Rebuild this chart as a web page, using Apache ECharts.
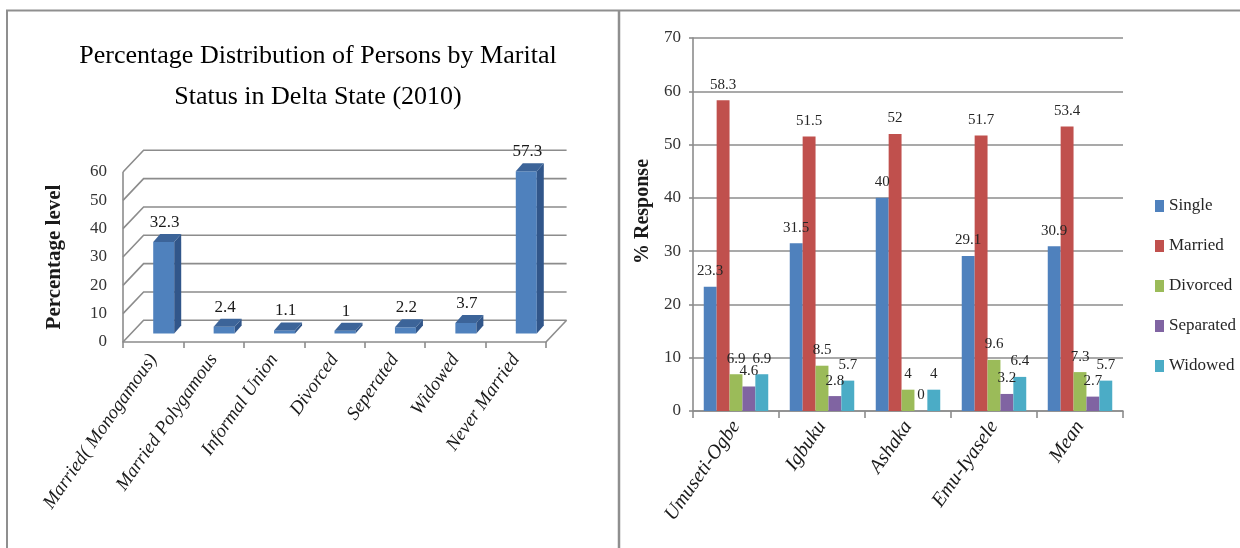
<!DOCTYPE html>
<html>
<head>
<meta charset="utf-8">
<script src="https://cdn.jsdelivr.net/npm/echarts@6/dist/echarts.min.js"></script>
<style>
  html, body { margin: 0; padding: 0; background: #fff; }
  #chart { width: 1240px; height: 548px; }
</style>
</head>
<body>
<div id="chart"></div>
<script>
// ---- Marital status, Delta State (2010) ----
const statusCategories = ['Married( Monogamous)', 'Married Polygamous', 'Informal Union', 'Divorced', 'Seperated', 'Widowed', 'Never Married'];
const statusValues = [32.3, 2.4, 1.1, 1, 2.2, 3.7, 57.3];
const statusTicks = [0, 10, 20, 30, 40, 50, 60];

// ---- Survey response by community ----
const communities = ['Umuseti-Ogbe', 'Igbuku', 'Ashaka', 'Emu-Iyasele', 'Mean'];
const singleValues = [23.3, 31.5, 40, 29.1, 30.9];
const marriedValues = [58.3, 51.5, 52, 51.7, 53.4];
const divorcedValues = [6.9, 8.5, 4, 9.6, 7.3];
const separatedValues = [4.6, 2.8, 0, 3.2, 2.7];
const widowedValues = [6.9, 5.7, 4, 6.4, 5.7];

const SERIF = '"Liberation Serif", "DejaVu Serif", serif';
const GRID_LINE = '#8c8c8c';

// depth of the 3D box (back wall offset)
const WALL_DX = 20.6, WALL_DY = -21.7;
// bar placement inside the box and bar depth
const BAR_DX = 10.5, BAR_DY = -8.5, BAR_W = 21, BAR_SX = 7, BAR_SY = -8;

function renderWall(params, api) {
  const cs = params.coordSys;
  const v = api.value(1);
  const y = api.coord([0, v])[1];
  const x0 = cs.x, x1 = cs.x + cs.width;
  const style = { stroke: GRID_LINE, lineWidth: 1.6, fill: null };
  const children = [{
    type: 'polyline',
    shape: { points: [[x0, y], [x0 + WALL_DX, y + WALL_DY], [x1 + WALL_DX, y + WALL_DY]] },
    style: style
  }];
  if (v === 0) {
    children.push({ type: 'line', shape: { x1: x1, y1: y, x2: x1 + WALL_DX, y2: y + WALL_DY }, style: style });
    const yTop = api.coord([0, statusTicks[statusTicks.length - 1]])[1];
    children.push({ type: 'line', shape: { x1: x0, y1: y, x2: x0, y2: yTop }, style: style });
  }
  return { type: 'group', children: children };
}

function renderBar3D(params, api) {
  const i = api.value(0), v = api.value(1);
  const base = api.coord([i, 0]);
  const top = api.coord([i, v]);
  const cx = base[0] + BAR_DX;
  const xl = cx - BAR_W / 2, xr = cx + BAR_W / 2;
  const yb = base[1] + BAR_DY, yt = top[1] + BAR_DY;
  return {
    type: 'group',
    children: [
      { type: 'rect', shape: { x: xl, y: yt, width: BAR_W, height: yb - yt }, style: { fill: '#4f81bd' } },
      { type: 'polygon', shape: { points: [[xr, yt], [xr + BAR_SX, yt + BAR_SY], [xr + BAR_SX, yb + BAR_SY], [xr, yb]] }, style: { fill: '#31568a' } },
      { type: 'polygon', shape: { points: [[xl, yt], [xl + BAR_SX, yt + BAR_SY], [xr + BAR_SX, yt + BAR_SY], [xr, yt]] }, style: { fill: '#3c6499' } },
      { type: 'text', style: { x: cx + 1, y: yt + BAR_SY - 3, text: String(v), align: 'center', verticalAlign: 'bottom', fill: '#1a1a1a', font: '17px ' + SERIF } }
    ]
  };
}

function barSeries(name, data, color) {
  return {
    name: name, type: 'bar', xAxisIndex: 1, yAxisIndex: 1, data: data,
    barGap: 0, barCategoryGap: '25%',
    itemStyle: { color: color },
    label: { show: true, position: 'top', distance: 8, color: '#262626', fontFamily: SERIF, fontSize: 15 }
  };
}

const chart = echarts.init(document.getElementById('chart'), null, { renderer: 'canvas' });
chart.setOption({
  animation: false,
  backgroundColor: '#ffffff',
  title: {
    text: 'Percentage Distribution of Persons by Marital\nStatus in Delta State (2010)',
    left: 313, top: 31, textAlign: 'center',
    textStyle: { fontFamily: SERIF, fontSize: 26, fontWeight: 'normal', color: '#000', lineHeight: 41 }
  },
  legend: {
    orient: 'vertical', left: 1150, top: 191,
    icon: 'rect', itemWidth: 9, itemHeight: 12, itemGap: 20,
    data: ['Single', 'Married', 'Divorced', 'Separated', 'Widowed'],
    textStyle: { fontFamily: SERIF, fontSize: 17, color: '#262626', lineHeight: 20 }
  },
  graphic: [
    { type: 'line', shape: { x1: 6, y1: 10.5, x2: 1240, y2: 10.5 }, style: { stroke: '#8f8f8f', lineWidth: 2 } },
    { type: 'line', shape: { x1: 7, y1: 10, x2: 7, y2: 548 }, style: { stroke: '#8f8f8f', lineWidth: 2 } },
    { type: 'line', shape: { x1: 619, y1: 10, x2: 619, y2: 548 }, style: { stroke: '#8f8f8f', lineWidth: 2.5 } }
  ],
  grid: [
    { left: 123, top: 172, width: 423, height: 170 },
    { left: 693, top: 38, width: 430, height: 373 }
  ],
  xAxis: [
    {
      type: 'category', gridIndex: 0, data: statusCategories,
      axisLine: { show: true, lineStyle: { color: GRID_LINE, width: 1.6 } },
      axisTick: { show: true, length: 6, lineStyle: { color: GRID_LINE, width: 1.6 } },
      axisLabel: { rotate: 55, margin: 14, fontFamily: SERIF, fontStyle: 'italic', fontSize: 19, color: '#1a1a1a', interval: 0 }
    },
    {
      type: 'category', gridIndex: 1, data: communities,
      axisLine: { show: true, lineStyle: { color: GRID_LINE, width: 1.6 } },
      axisTick: { show: true, length: 7, lineStyle: { color: GRID_LINE, width: 1.6 } },
      axisLabel: { rotate: 55, margin: 12, fontFamily: SERIF, fontStyle: 'italic', fontSize: 20, color: '#1a1a1a', interval: 0 }
    }
  ],
  yAxis: [
    {
      type: 'value', gridIndex: 0, min: 0, max: 60, interval: 10,
      name: 'Percentage level', nameLocation: 'middle', nameGap: 58,
      nameTextStyle: { fontFamily: SERIF, fontWeight: 'bold', fontSize: 21, color: '#1a1a1a' },
      axisLine: { show: false }, axisTick: { show: false }, splitLine: { show: false },
      axisLabel: { margin: 16, fontFamily: SERIF, fontSize: 17, color: '#333' }
    },
    {
      type: 'value', gridIndex: 1, min: 0, max: 70, interval: 10,
      name: '% Response', nameLocation: 'middle', nameGap: 40,
      nameTextStyle: { fontFamily: SERIF, fontWeight: 'bold', fontSize: 20, color: '#1a1a1a', padding: [0, 0, 0, 26] },
      axisLine: { show: true, lineStyle: { color: GRID_LINE, width: 1.6 } },
      axisTick: { show: true, length: 4, lineStyle: { color: GRID_LINE, width: 1.6 } },
      splitLine: { show: true, lineStyle: { color: GRID_LINE, width: 1.6 } },
      axisLabel: { margin: 12, fontFamily: SERIF, fontSize: 17, color: '#333' }
    }
  ],
  series: [
    {
      type: 'custom', xAxisIndex: 0, yAxisIndex: 0, silent: true, z: 1,
      data: statusTicks.map(function (t) { return [0, t]; }),
      renderItem: renderWall
    },
    {
      type: 'custom', xAxisIndex: 0, yAxisIndex: 0, z: 3,
      data: statusValues.map(function (v, i) { return [i, v]; }),
      renderItem: renderBar3D
    },
    barSeries('Single', singleValues, '#4f81bd'),
    barSeries('Married', marriedValues, '#c0504d'),
    barSeries('Divorced', divorcedValues, '#9bbb59'),
    barSeries('Separated', separatedValues, '#8064a2'),
    barSeries('Widowed', widowedValues, '#4bacc6')
  ]
});
</script>
</body>
</html>
